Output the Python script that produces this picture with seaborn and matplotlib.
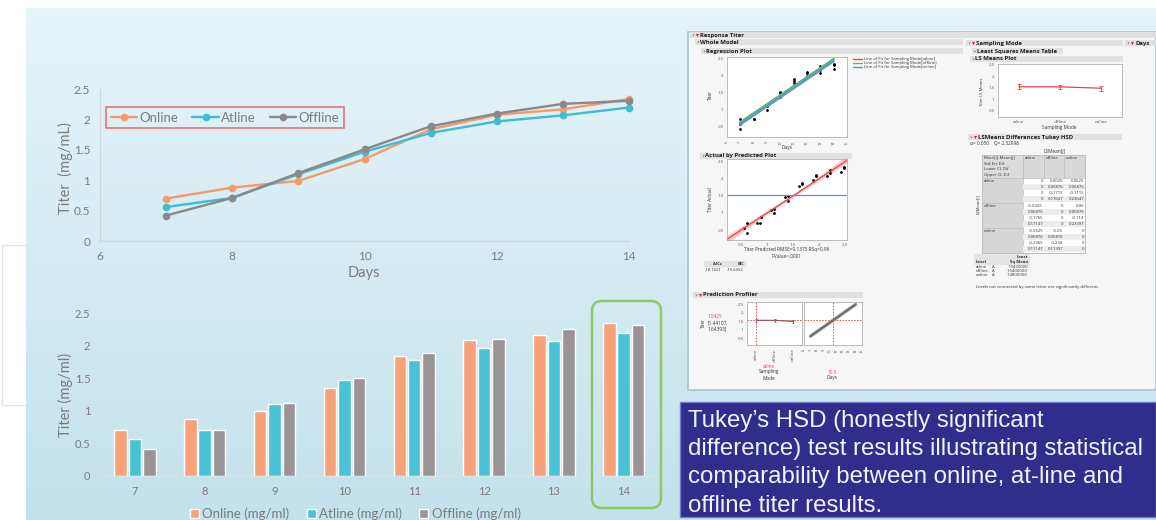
import numpy as np
import pandas as pd
import matplotlib
matplotlib.use("Agg")
import matplotlib.pyplot as plt
from matplotlib.patches import Rectangle, FancyBboxPatch
from matplotlib.ticker import FuncFormatter
import seaborn as sns

sns.set_style("white")
plt.rcParams["font.family"] = ["Lato", "DejaVu Sans"]

# Titer (mg/ml) by sampling mode over culture days
days = [7, 8, 9, 10, 11, 12, 13, 14]
online = [0.70, 0.88, 0.99, 1.35, 1.84, 2.08, 2.17, 2.34]
atline = [0.56, 0.71, 1.10, 1.47, 1.78, 1.97, 2.07, 2.20]
offline = [0.42, 0.71, 1.12, 1.51, 1.89, 2.10, 2.26, 2.31]

line_names = ["Online", "Atline", "Offline"]
bar_names = ["Online (mg/ml)", "Atline (mg/ml)", "Offline (mg/ml)"]
line_colors = ["#f59a68", "#3dbcd3", "#8b8889"]
bar_colors = ["#f7a27b", "#4ac2d6", "#9a9496"]

# JMP fit: Titer ~ Sampling Mode + Days
fit_levels = ["atline", "offline", "online"]
fit_series = [offline, online, atline]
fit_colors = ["#e8434b", "#52c25c", "#5d8fe2"]
ls_means = [1.5425, 1.54, 1.48]
ls_half_ci = [0.10143, 0.10143, 0.10143]
profile_day = 10.5
profile_ci = ["[1.44107,", "1.64393]"]
fit_summary = ["Titer Predicted RMSE=0.1375 RSq=0.96", "PValue<.0001"]
aicc_bic = ["-18.1621", "-15.6052"]
tukey_q = "\u03b1= 0.050    Q= 2.52998"
tukey_stats = ["Mean[i]-Mean[j]", "Std Err Dif", "Lower CL Dif", "Upper CL Dif"]
tukey_atline = [["0", "0", "0", "0"], ["0.0025", "0.06876", "-0.1715", "0.17647"],
                ["0.0625", "0.06876", "-0.1115", "0.23647"]]
tukey_offline = [["-0.0025", "0.06876", "-0.1765", "0.17147"], ["0", "0", "0", "0"],
                 ["0.06", "0.06876", "-0.114", "0.23397"]]
tukey_online = [["-0.0625", "0.06876", "-0.2365", "0.11147"],
                ["-0.06", "0.06876", "-0.234", "0.11397"], ["0", "0", "0", "0"]]
ls_letters = ["A", "A", "A"]
ls_table_values = ["1.5425000", "1.5400000", "1.4800000"]

caption_lines = ["Tukey\u2019s HSD (honestly significant",
                 "difference) test results illustrating statistical",
                 "comparability between online, at-line and",
                 "offline titer results."]

W, H = 1156, 520
fig = plt.figure(figsize=(W / 100, H / 100), dpi=100)
fig.patch.set_facecolor("white")


def rect(x0, y0, x1, y1):
    return [x0 / W, 1 - y1 / H, (x1 - x0) / W, (y1 - y0) / H]


def pix_axes(z):
    a = fig.add_axes([0, 0, 1, 1], zorder=z)
    a.set_xlim(0, W)
    a.set_ylim(H, 0)
    a.axis("off")
    return a


gfmt = FuncFormatter(lambda v, _: f"{v:g}")

# ---------------- slide background ----------------
bg = pix_axes(-10)
bg.add_patch(Rectangle((2, 245), 60, 160, fc="white", ec="#e2e6e8", lw=1))
top_c = np.array([0.905, 0.957, 0.980])
bot_c = np.array([0.765, 0.886, 0.922])
t = np.linspace(0, 1, 256)[:, None, None]
grad = top_c * (1 - t) + bot_c * t
bg.imshow(grad, extent=[26, W, H, 8], aspect="auto", interpolation="bilinear", zorder=1)
bg.set_xlim(0, W)
bg.set_ylim(H, 0)
# JMP report panel
bg.add_patch(Rectangle((688, 32), W - 688, 358, fc="#f6f6f6", ec="#a9c3cd", lw=1.2, zorder=2))

ov = pix_axes(10)

# ---------------- line chart ----------------
ax1 = fig.add_axes(rect(100, 89.3, 629, 241))
ax1.patch.set_alpha(0)
line_df = pd.DataFrame({"Days": days * 3, "Titer": online + atline + offline,
                        "Mode": np.repeat(line_names, len(days))})
sns.lineplot(data=line_df, x="Days", y="Titer", hue="Mode", hue_order=line_names,
             palette=line_colors, marker="o", markersize=5.5, markeredgewidth=0,
             linewidth=1.7, ax=ax1)
for ln in ax1.lines:
    ln.set_clip_on(False)
ax1.set_xlim(6, 14)
ax1.set_ylim(0, 2.5)
ax1.set_xticks([6, 8, 10, 12, 14])
ax1.set_yticks([0, 0.5, 1, 1.5, 2, 2.5])
ax1.yaxis.set_major_formatter(gfmt)
ax1.set_xlabel("")
ax1.set_ylabel("")
for s in ["top", "right"]:
    ax1.spines[s].set_visible(False)
for s in ["left", "bottom"]:
    ax1.spines[s].set_color("#cdd5d8")
    ax1.spines[s].set_linewidth(0.9)
ax1.tick_params(length=0, labelsize=8.5, labelcolor="#7b7b7b", pad=7)
h, l = ax1.get_legend_handles_labels()
leg = ax1.legend(h, l, loc="upper left", bbox_to_anchor=((106 - 100) / 529, 1 - (107 - 89.3) / 151.7),
                 ncol=3, frameon=True, fancybox=False, edgecolor="#e5545c", fontsize=9.5,
                 handlelength=2.0, handletextpad=0.15, columnspacing=1.1, borderpad=0.35,
                 borderaxespad=0)
leg.get_frame().set_linewidth(1.2)
leg.get_frame().set_facecolor("none")
for tx in leg.get_texts():
    tx.set_color("#7b7b7b")
ov.text(65, 168, "Titer  (mg/mL)", rotation=90, ha="center", va="center", fontsize=10.5, color="#7b7b7b")
ov.text(364, 273, "Days", ha="center", va="center", fontsize=10.5, color="#7b7b7b")

# ---------------- bar chart ----------------
ax2 = fig.add_axes(rect(100, 313, 658.6, 476))
ax2.patch.set_alpha(0)
bar_df = pd.DataFrame({"Day": [str(d) for d in days] * 3, "Titer": online + atline + offline,
                       "Series": np.repeat(bar_names, len(days))})
sns.barplot(data=bar_df, x="Day", y="Titer", hue="Series", hue_order=bar_names,
            palette=bar_colors, saturation=1, width=0.62, gap=0.13, errorbar=None, ax=ax2)
ax2.set_xlim(-0.5, len(days) - 0.5)
ax2.set_ylim(0, 2.5)
ax2.set_yticks([0, 0.5, 1, 1.5, 2, 2.5])
ax2.yaxis.set_major_formatter(gfmt)
ax2.set_xlabel("")
ax2.set_ylabel("")
for s in ["top", "right", "left"]:
    ax2.spines[s].set_visible(False)
ax2.spines["bottom"].set_color("#d3e4ea")
ax2.spines["bottom"].set_linewidth(0.8)
ax2.tick_params(length=0, labelsize=8, labelcolor="#7b7b7b", pad=7)
h, l = ax2.get_legend_handles_labels()
leg2 = ax2.legend(h, l, loc="center", bbox_to_anchor=(0.457, -0.233), ncol=3, frameon=False,
                  fontsize=9.5, handlelength=0.7, handleheight=0.7, handletextpad=0.25,
                  columnspacing=1.3)
for tx in leg2.get_texts():
    tx.set_color("#7b7b7b")
ov.text(65, 395, "Titer (mg/ml)", rotation=90, ha="center", va="center", fontsize=10.5, color="#7b7b7b")
ov.add_patch(FancyBboxPatch((592, 301), 69, 207, boxstyle="round,pad=0,rounding_size=10",
                            fc="none", ec="#8dca66", lw=1.8))

# ---------------- JMP report ----------------
JF = ["Open Sans", "DejaVu Sans"]


def jtext(x, y, s, size=3.4, **kw):
    kw.setdefault("color", "#333333")
    kw.setdefault("va", "center")
    ov.text(x, y, s, fontsize=size, family=JF, **kw)


def jheader(x0, x1, y, label, red=True, open_=True, bar=True):
    if bar:
        ov.add_patch(Rectangle((x0, y - 2.8), x1 - x0, 5.6, fc="#e1e1e1", ec="none"))
    ov.plot([x0 + 2.5], [y], marker="v" if open_ else ">", ms=1.5, color="#808080", mew=0)
    tx = x0 + 5
    if red:
        ov.plot([tx + 1.5], [y], marker="v", ms=2.2, color="#d9262c", mew=0)
        tx += 5
    jtext(tx, y, label, size=4.3, fontweight="bold", color="#1f1f1f")


def jaxes(x0, y0, x1, y1):
    a = fig.add_axes(rect(x0, y0, x1, y1), zorder=2)
    a.set_facecolor("white")
    for sp in a.spines.values():
        sp.set_color("#a3a3a3")
        sp.set_linewidth(0.5)
    a.tick_params(labelsize=3.2, length=1.5, width=0.4, pad=1, colors="#555555")
    return a


def clean(a):
    a.set_xlabel("")
    a.set_ylabel("")
    if a.get_legend() is not None:
        a.get_legend().remove()
    for lab in a.get_xticklabels() + a.get_yticklabels():
        lab.set_family(JF)


jheader(690, W, 35, "Response Titer")
jheader(695, 963, 42, "Whole Model", red=False)
jheader(701, 963, 51, "Regression Plot", red=False)
jheader(700, 852, 156, "Actual by Predicted Plot", red=False)
jheader(693, 863, 295, "Prediction Profiler")
jheader(966, 1123, 43, "Sampling Mode")
jheader(1125, W, 43, "Days")
jheader(972, 1063, 51, "Least Squares Means Table", red=False, open_=False)
jheader(970, 1123, 59, "LS Means Plot", red=False)
jheader(968, 1122, 137, "LSMeans Differences Tukey HSD")

# additive fit used by the regression, actual-by-predicted and profiler plots
fd = np.array(days * 3, float)
fy = np.concatenate([np.asarray(s, float) for s in fit_series])
flvl = np.repeat(fit_levels, len(days))
X = np.column_stack([fd] + [(flvl == lv).astype(float) for lv in fit_levels])
coef = np.linalg.lstsq(X, fy, rcond=None)[0]
slope, intercepts = coef[0], coef[1:]
fpred = X @ coef
fit_df = pd.DataFrame({"Days": fd, "Titer": fy, "Level": flvl, "Pred": fpred})

# regression plot
ar = jaxes(727, 57, 847, 137)
sns.lineplot(data=fit_df, x="Days", y="Pred", hue="Level", hue_order=fit_levels,
             palette=fit_colors, linewidth=1.6, ax=ar)
sns.scatterplot(data=fit_df, x="Days", y="Titer", color="black", s=4, linewidth=0, ax=ar)
ar.set_xlim(6, 15)
ar.set_ylim(0.18, 2.54)
ar.set_xticks(range(6, 16))
ar.set_yticks([0.5, 1, 1.5, 2, 2.5])
ar.yaxis.set_major_formatter(gfmt)
ar.tick_params(axis="x", labelrotation=90, labelsize=2.8)
clean(ar)
jtext(787, 147.5, "Days", ha="center")
jtext(710, 95, "Titer", rotation=90, ha="center")
for i, (lv, c) in enumerate(zip(fit_levels, fit_colors)):
    yy = 59.3 + 4 * i
    ov.plot([853, 862], [yy, yy], color=c, lw=1.0)
    jtext(863.5, yy, f"Line of Fit for Sampling Mode[{lv}]", size=3.0)

# actual by predicted
ap = jaxes(727, 159, 847, 240)
ap.set_xlim(0.23, 2.54)
ap.set_ylim(0.21, 2.58)
sns.regplot(x=fpred, y=fy, scatter=False, ci=95, truncate=False, seed=3,
            color=fit_colors[0], line_kws={"lw": 0.9}, ax=ap)
for coll in ap.collections:
    coll.set_alpha(0.3)
ap.axhline(fy.mean(), color=fit_colors[2], lw=0.9)
sns.scatterplot(x=fpred, y=fy, color="black", s=4, linewidth=0, ax=ap)
ap.set_xlim(0.23, 2.54)
ap.set_ylim(0.21, 2.58)
ap.set_xticks([0.5, 1, 1.5, 2, 2.5])
ap.set_yticks([0.5, 1, 1.5, 2, 2.5])
ap.xaxis.set_major_formatter(gfmt)
ap.yaxis.set_major_formatter(gfmt)
clean(ap)
jtext(710, 200, "Titer Actual", rotation=90, ha="center")
jtext(787, 250, fit_summary[0], ha="center")
jtext(787, 256, fit_summary[1], ha="center")
ov.add_patch(Rectangle((704, 261.3), 42, 5.4, fc="#e3e3e3", ec="none"))
jtext(722, 264, "AICc", ha="right", fontweight="bold", size=3.0)
jtext(744, 264, "BIC", ha="right", fontweight="bold", size=3.0)
jtext(722, 270, aicc_bic[0], ha="right", size=3.0)
jtext(744, 270, aicc_bic[1], ha="right", size=3.0)

# LS means plot
al = jaxes(998, 64, 1122, 117)
sns.lineplot(x=[0, 1, 2], y=ls_means, color=fit_colors[0], lw=0.9, ax=al)
al.errorbar([0, 1, 2], ls_means, yerr=ls_half_ci, fmt="none", ecolor=fit_colors[0],
            elinewidth=0.7, capsize=1.2, capthick=0.6)
al.set_xlim(-0.5, 2.5)
al.set_ylim(0.22, 2.54)
al.set_xticks([0, 1, 2])
al.set_xticklabels(fit_levels)
al.set_yticks([0.5, 1, 1.5, 2, 2.5])
al.yaxis.set_major_formatter(gfmt)
clean(al)
jtext(982, 92, "Titer LS Means", rotation=90, ha="center", size=3.0)
jtext(1059, 128, "Sampling Mode", ha="center")

# prediction profiler
p1 = jaxes(747, 302, 802, 345)
sns.lineplot(x=[0, 1, 2], y=ls_means, color="#555555", lw=0.8, ax=p1)
p1.errorbar([0, 1, 2], ls_means, yerr=ls_half_ci, fmt="none", ecolor="#4a6fd3",
            elinewidth=0.7, capsize=1.0, capthick=0.6)
p1.axvline(0, color="#e8434b", lw=0.6, ls=(0, (2, 1.5)))
p1.axhline(ls_means[0], color="#e8434b", lw=0.6, ls=(0, (2, 1.5)))
p1.set_xlim(-0.5, 2.5)
p1.set_ylim(0.09, 2.62)
p1.set_xticks([0, 1, 2])
p1.set_xticklabels(fit_levels, rotation=90)
p1.set_yticks([0.5, 1, 1.5, 2, 2.5])
p1.yaxis.set_major_formatter(gfmt)
clean(p1)
p2 = jaxes(804, 302, 862, 345)
prof_days = np.array(days, float)
prof_vals = intercepts[0] + slope * prof_days
sns.lineplot(x=prof_days, y=prof_vals, color="#8f8f8f", lw=2.4, ax=p2)
sns.lineplot(x=prof_days, y=prof_vals, color="#4d4d4d", lw=0.5, ax=p2)
p2.axvline(profile_day, color="#e8434b", lw=0.6, ls=(0, (2, 1.5)))
p2.axhline(ls_means[0], color="#e8434b", lw=0.6, ls=(0, (2, 1.5)))
p2.set_xlim(6, 15)
p2.set_ylim(0.09, 2.62)
p2.set_xticks(range(6, 16))
p2.tick_params(axis="x", labelrotation=90, labelsize=2.8)
p2.set_yticks([0.5, 1, 1.5, 2, 2.5])
p2.set_yticklabels([])
p2.tick_params(axis="y", length=0)
clean(p2)
jtext(703, 323, "Titer", rotation=90, ha="center")
jtext(708, 317, f"{ls_means[0]:.4f}", color="#e8434b")
jtext(708, 323, profile_ci[0])
jtext(708, 329, profile_ci[1])
jtext(769, 366, fit_levels[0], ha="center", color="#e8434b")
jtext(769, 372, "Sampling", ha="center")
jtext(769, 378, "Mode", ha="center")
jtext(832, 372, f"{profile_day:g}", ha="center", color="#e8434b")
jtext(832, 378, "Days", ha="center")

# Tukey HSD table
jtext(970, 143, tukey_q)
cols = [982, 1023, 1044, 1064, 1085]
ty0, th, bh = 155, 23, 24.9
jtext(1054, 151.5, "LSMean[j]", ha="center")
ov.add_patch(Rectangle((cols[0], ty0), cols[-1] - cols[0], th + 3 * bh, fc="white", ec="#a8a8a8", lw=0.5))
ov.add_patch(Rectangle((cols[0], ty0), cols[1] - cols[0], th, fc="#dcdcdc", ec="#b8b8b8", lw=0.4))
for k, st in enumerate(tukey_stats):
    jtext(cols[0] + 1.5, ty0 + 2.7 + 5.9 * k, st, size=3.1)
for j, lv in enumerate(fit_levels):
    ov.add_patch(Rectangle((cols[j + 1], ty0), cols[j + 2] - cols[j + 1], th, fc="#d8d8d8", ec="#b8b8b8", lw=0.4))
    jtext(cols[j + 1] + 1.5, ty0 + 2.7, lv, size=3.1)
for i, (lv, block) in enumerate(zip(fit_levels, [tukey_atline, tukey_offline, tukey_online])):
    by = ty0 + th + i * bh
    ov.add_patch(Rectangle((cols[0], by), cols[1] - cols[0], bh, fc="#d6d6d6", ec="#b8b8b8", lw=0.4))
    jtext(cols[0] + 1.5, by + 3, lv, size=3.1)
    for j, cell in enumerate(block):
        for k, val in enumerate(cell):
            ry = by + 3 + 6 * k
            if k % 2 == 1:
                ov.add_patch(Rectangle((cols[j + 1], ry - 3), cols[j + 2] - cols[j + 1], 6, fc="#ececec", ec="none"))
            jtext(cols[j + 2] - 1, ry, val, size=3.1, ha="right")
jtext(978, 204, "LSMean[i]", rotation=90, ha="center", size=3.1)

# connecting letters report
ov.add_patch(Rectangle((974, 253.5), 56, 11, fc="#e4e4e4", ec="none"))
jtext(1028, 257, "Least", ha="right", fontweight="bold", size=3.1)
jtext(976, 262, "Level", fontweight="bold", size=3.1)
jtext(1028, 262, "Sq Mean", ha="right", fontweight="bold", size=3.1)
for i, (lv, let, val) in enumerate(zip(fit_levels, ls_letters, ls_table_values)):
    yy = 266.5 + 4.3 * i
    jtext(976, yy, lv, size=3.1)
    jtext(992, yy, let, size=3.1)
    jtext(1028, yy, val, ha="right", size=3.1)
jtext(976, 287, "Levels not connected by same letter are significantly different.", size=3.1)

# ---------------- caption box ----------------
ov.add_patch(Rectangle((680, 402), W - 680, 115, fc="#302d8d", ec="#6f7cc6", lw=1))
for i, line in enumerate(caption_lines):
    ov.text(688, 426.7 + 28.3 * i, line, fontsize=17.3, family=["Liberation Sans", "DejaVu Sans"],
            color="#f3f3fa", ha="left", va="baseline")

fig.savefig("out.png", dpi=100, facecolor=fig.get_facecolor())
